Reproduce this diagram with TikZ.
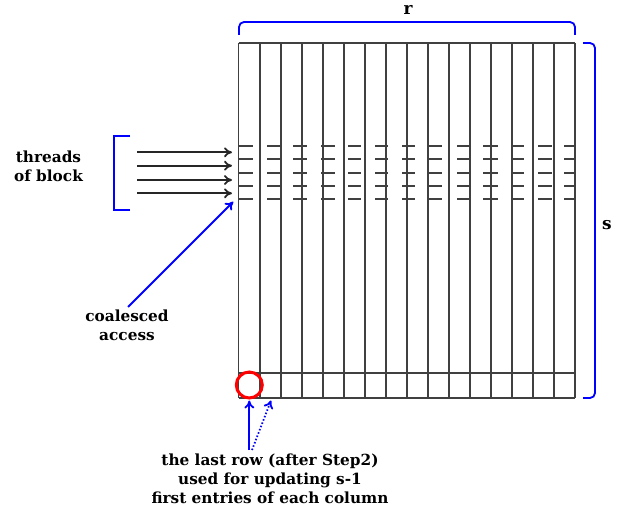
\documentclass[tikz,border=0pt]{standalone}
\usepackage{fontspec}
\setmainfont{DejaVu Serif}
\usetikzlibrary{arrows.meta}

\begin{document}
\begin{tikzpicture}[x=1pt,y=-1pt,
  gridline/.style={line width=1.9pt, black!75},
  dashmark/.style={line width=1.9pt, black!75},
  lbl/.style={font=\bfseries\fontsize{15.3}{19}\selectfont, align=center, inner sep=0pt},
  dimlbl/.style={font=\bfseries\fontsize{17}{20}\selectfont, inner sep=0pt},
  thread/.style={-{To[length=8pt,width=10pt]}, line width=1.8pt, black!85},
  blueptr/.style={-{To[length=8pt,width=10pt]}, line width=1.8pt, blue},
  bracket/.style={line width=1.8pt, blue},
]
\useasboundingbox (0,0) rectangle (623,510);

% matrix of r columns and s rows
\foreach \x in {238.5,259.8,280.8,302,323,344,365,386,407,428,449,470,491,512,533,554,575}
  \draw[gridline] (\x,43) -- (\x,398);
\draw[gridline] (238.5,43) -- (575,43);
\draw[gridline] (238.5,373) -- (575,373);
\draw[gridline] (238.5,398) -- (575,398);

% entries touched by the threads
\foreach \a/\b in {238/253, 267/281, 293/307, 321/335, 348/361, 375/388, 402/415,
                   429/442, 457/470, 483/498, 512/524, 538/552, 564/576}
  \foreach \y in {146,159.3,172.7,186,199.3}
    \draw[dashmark] (\a,\y) -- (\b,\y);

% threads of a block
\draw[bracket] (130,136) -- (114,136) -- (114,210) -- (130,210);
\foreach [count=\k] \y in {152.3,165.7,180,193.3} {
  \coordinate (ts\k) at (137,\y);
  \coordinate (te\k) at (232,\y);
  \draw[thread] (ts\k) -- (te\k);
}
\node[lbl] (threads) at (48.5,166) {threads\\of block};

% coalesced access
\node[lbl] (coal) at (127,325.5) {coalesced\\access};
\coordinate (coalS) at (128,307);
\coordinate (coalE) at (233.3,201.7);
\draw[blueptr] (coalS) -- (coalE);

% dimension brackets
\draw[bracket, rounded corners=5pt] (239,35) -- (239,22) -- (575,22) -- (575,35);
\node[dimlbl] (r) at (408,10) {r};
\draw[bracket, rounded corners=5pt] (583,43) -- (595,43) -- (595,398) -- (583,398);
\node[dimlbl] (s) at (607,225) {s};

% first entry of the last row
\node[draw=red, line width=3pt, circle, minimum size=26pt, inner sep=0pt] (first) at (249.3,385) {};

% explanation of the last row
\node[lbl] (last) at (270,479) {the last row (after Step2)\\used for updating s-1\\first entries of each column};
\coordinate (a1s) at (249.3,450);
\coordinate (a1e) at (249.3,400.5);
\coordinate (a2s) at (252,450);
\coordinate (a2e) at (271,400.5);
\draw[blueptr] (a1s) -- (a1e);
\draw[blueptr, dash pattern=on 1.5pt off 2pt] (a2s) -- (a2e);
\end{tikzpicture}
\end{document}
